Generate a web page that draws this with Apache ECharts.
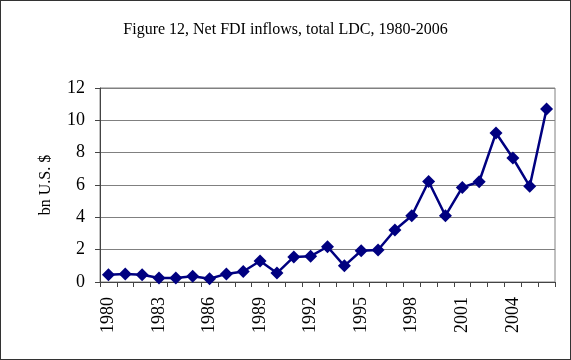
<!DOCTYPE html>
<html>
<head>
<meta charset="utf-8">
<script src="https://cdn.jsdelivr.net/npm/echarts@6/dist/echarts.min.js"></script>
<style>
html, body { margin: 0; padding: 0; background: #fff; }
#FdiChart {
  width: 569px;
  height: 358px;
  border: 1px solid #333;
}
</style>
</head>
<body>
<div id="FdiChart"></div>
<script>
// Net FDI inflows, total LDC (bn U.S. $)
const years = ['1980', '1981', '1982', '1983', '1984', '1985', '1986', '1987', '1988', '1989',
  '1990', '1991', '1992', '1993', '1994', '1995', '1996', '1997', '1998', '1999',
  '2000', '2001', '2002', '2003', '2004', '2005', '2006']
const fdiValues = [0.45, 0.5, 0.45, 0.25, 0.25, 0.35, 0.2, 0.5, 0.65, 1.3,
  0.55, 1.55, 1.6, 2.18, 1.0, 1.93, 1.98, 3.22, 4.1, 6.22,
  4.1, 5.85, 6.2, 9.22, 7.67, 5.92, 10.7]
const yTicks = [0, 2, 4, 6, 8, 10, 12]

const font = '"Liberation Serif", "Times New Roman", serif'

const chart = echarts.init(document.getElementById('FdiChart'))
chart.setOption({
  animation: false,
  title: {
    text: 'Figure 12, Net FDI inflows, total LDC, 1980-2006',
    left: 'center',
    top: 16,
    textStyle: { fontFamily: font, fontSize: 16, fontWeight: 'normal', color: '#000' }
  },
  grid: {
    left: 99,
    right: 15,
    top: 87,
    bottom: 77,
    show: true,
    borderColor: '#808080',
    borderWidth: 1
  },
  xAxis: {
    type: 'category',
    data: years,
    boundaryGap: true,
    axisLine: { lineStyle: { color: '#444', width: 1 } },
    axisTick: { show: true, interval: 0, length: 5, lineStyle: { color: '#444' } },
    axisLabel: {
      interval: 2,
      rotate: 90,
      margin: 15,
      fontFamily: font,
      fontSize: 18,
      color: '#000'
    }
  },
  yAxis: {
    type: 'value',
    min: yTicks[0],
    max: yTicks[yTicks.length - 1],
    interval: 2,
    name: 'bn U.S. $',
    nameLocation: 'middle',
    nameGap: 46,
    nameTextStyle: { fontFamily: font, fontSize: 16, color: '#000' },
    axisLine: { show: true, lineStyle: { color: '#444', width: 1 } },
    axisTick: { show: true, length: 5, lineStyle: { color: '#444' } },
    axisLabel: { fontFamily: font, fontSize: 18, color: '#000', margin: 15 },
    splitLine: { lineStyle: { color: '#808080', width: 1 } }
  },
  series: [
    {
      type: 'line',
      data: fdiValues,
      symbol: 'diamond',
      symbolSize: 13,
      showSymbol: true,
      showAllSymbol: true,
      lineStyle: { color: '#000080', width: 2.5 },
      itemStyle: { color: '#000080' }
    }
  ]
})
</script>
</body>
</html>
